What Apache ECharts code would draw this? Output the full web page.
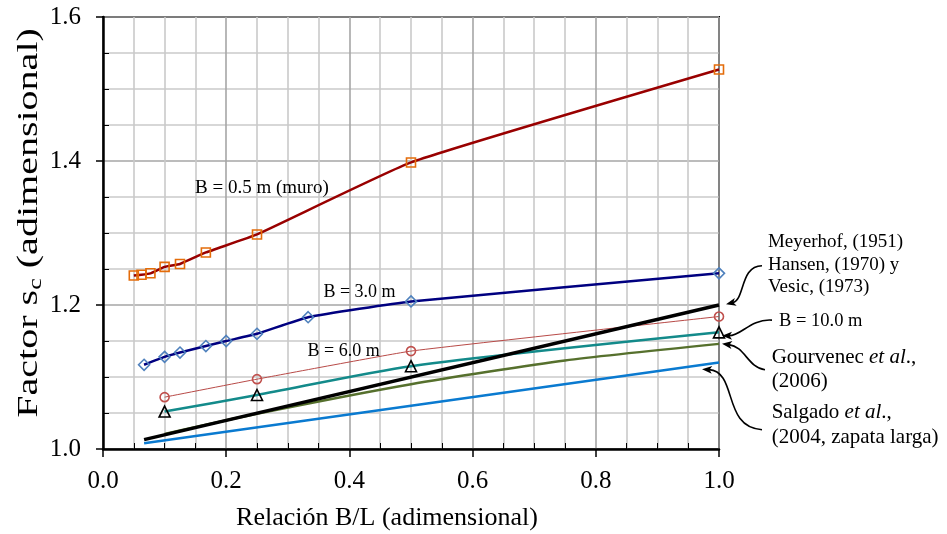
<!DOCTYPE html>
<html><head><meta charset="utf-8">
<script src="https://cdn.jsdelivr.net/npm/echarts@6/dist/echarts.min.js"></script>
<style>html,body{margin:0;padding:0;background:#fff}#main{width:947px;height:534px}</style>
</head><body><div id="main"></div>
<script>
// ---- data ----
const xTickLabels = ['0.0','0.2','0.4','0.6','0.8','1.0'];
const yTickLabels = ['1.0','1.2','1.4','1.6'];

const x05 = [0.05, 0.0625, 0.077, 0.1, 0.125, 0.167, 0.25, 0.5, 1.0];
const y05 = [1.241, 1.242, 1.244, 1.253, 1.257, 1.273, 1.298, 1.398, 1.527];

const x30 = [0.0667, 0.1, 0.125, 0.167, 0.2, 0.25, 0.333, 0.5, 1.0];
const y30 = [1.117, 1.128, 1.134, 1.143, 1.150, 1.160, 1.183, 1.205, 1.244];

const x60 = [0.1, 0.25, 0.5, 1.0];
const y60 = [1.072, 1.097, 1.136, 1.184];

const x100 = [0.1, 0.25, 0.5, 1.0];
const y100 = [1.052, 1.075, 1.115, 1.162];

const xMey = [0.0667, 1.0];
const yMey = [1.013, 1.200];

const xGou = [0.1, 0.25, 0.5, 0.75, 1.0];
const yGou = [1.021, 1.049, 1.090, 1.123, 1.146];

const xSal = [0.0667, 0.5, 1.0];
const ySal = [1.008, 1.060, 1.120];

const labels = {
  b05: 'B = 0.5 m (muro)',
  b30: 'B = 3.0 m',
  b60: 'B = 6.0 m',
  b100: 'B = 10.0 m',
  mey: 'Meyerhof, (1951)\nHansen, (1970) y\nVesic, (1973)',
  gou: 'Gourvenec {i|et al}.,\n(2006)',
  sal: 'Salgado {i|et al}.,\n(2004, zapata larga)',
  xTitle: 'Relación B/L (adimensional)',
  yTitle: 'Factor s{c|c} (adimensional)'
};
// --------------------------------------

const FONT = "'Liberation Serif','Times New Roman',serif";
const pairs = (xs, ys) => xs.map((x, i) => [x, ys[i]]);

const chart = echarts.init(document.getElementById('main'), null, {renderer: 'canvas'});

function lineSeries(name, data, color, width, symbol, symSize, symColor, extra) {
  return Object.assign({
    name, type: 'line', data,
    lineStyle: {color, width},
    symbol: symbol || 'none',
    symbolSize: symSize || 0,
    showSymbol: !!symbol,
    itemStyle: {color: 'rgba(255,255,255,0)', borderColor: symColor, borderWidth: 1.6},
    emphasis: {disabled: true},
    z: 3
  }, extra || {});
}

const option = {
  animation: false,
  backgroundColor: '#fff',
  grid: {left: 103, right: 228, top: 17, bottom: 85, show: true, borderColor: '#000', borderWidth: 2, containLabel: false},
  xAxis: {
    type: 'value', min: 0, max: 1, interval: 0.2,
    axisLine: {show: true, onZero: false, lineStyle: {color: '#000', width: 2.5}},
    axisTick: {show: true, length: 8, lineStyle: {color: '#000', width: 1.5}},
    minorTick: {show: true, splitNumber: 4, length: -6, lineStyle: {color: '#000', width: 1}},
    splitLine: {show: true, lineStyle: {color: '#A6A6A6', width: 1.6}},
    minorSplitLine: {show: true, lineStyle: {color: '#CACACA', width: 1.6}},
    axisLabel: {margin: 20, fontSize: 25, fontFamily: FONT, color: '#000',
      formatter: v => xTickLabels[Math.round(v / 0.2)]}
  },
  yAxis: {
    type: 'value', min: 1.0, max: 1.6, interval: 0.2,
    axisLine: {show: true, onZero: false, lineStyle: {color: '#000', width: 2.5}},
    axisTick: {show: true, length: 7, lineStyle: {color: '#000', width: 1.5}},
    minorTick: {show: true, splitNumber: 4, length: -6, lineStyle: {color: '#000', width: 1}},
    splitLine: {show: true, lineStyle: {color: '#A6A6A6', width: 1.6}},
    minorSplitLine: {show: true, lineStyle: {color: '#CACACA', width: 1.6}},
    axisLabel: {margin: 22, fontSize: 25, fontFamily: FONT, color: '#000',
      formatter: v => yTickLabels[Math.round((v - 1) / 0.2)]}
  },
  series: [
    lineSeries('B = 0.5 m', pairs(x05, y05), '#990000', 2.5, 'rect', 9, '#E46C0A', {smooth: 0.12}),
    lineSeries('B = 3.0 m', pairs(x30, y30), '#000080', 2.5, 'diamond', 11, '#4F81BD', {smooth: 0.15}),
    lineSeries('B = 6.0 m', pairs(x60, y60), '#B84A47', 1, 'circle', 9, '#C0504D', {smooth: 0.1}),
    lineSeries('B = 10.0 m', pairs(x100, y100), '#138A8A', 2.5, 'triangle', 11, '#000', {smooth: 0.25}),
    lineSeries('Salgado', pairs(xSal, ySal), '#0A7AD0', 2.5, null, 0, null),
    lineSeries('Gourvenec', pairs(xGou, yGou), '#56702D', 2.5, null, 0, null, {smooth: 0.2}),
    lineSeries('Meyerhof', pairs(xMey, yMey), '#000', 3.5, null, 0, null)
  ]
};
chart.setOption(option);

const P = (x, y) => chart.convertToPixel({gridIndex: 0}, [x, y]);

function text(anchor, str, size, align, lineHeight, extra) {
  const p = P(anchor[0], anchor[1]);
  return Object.assign({
    type: 'text', x: p[0], y: p[1], z: 100,
    style: {
      text: str, fontSize: size, fontFamily: FONT, fill: '#000',
      align: align, verticalAlign: 'middle', lineHeight: lineHeight || size * 1.15,
      rich: {
        i: {fontStyle: 'italic', fontSize: size, fontFamily: FONT, fill: '#000', lineHeight: lineHeight || size * 1.15}
      }
    }
  }, extra || {});
}

// arrow: target data point + pixel offsets (start, control1, control2, tip)
function arrow(target, off) {
  const t = P(target[0], target[1]);
  const pt = o => [t[0] + o[0], t[1] + o[1]];
  const p0 = pt(off[0]), c1 = pt(off[1]), c2 = pt(off[2]), tip = pt(off[3]);
  const dx = tip[0] - c2[0], dy = tip[1] - c2[1];
  const L = Math.hypot(dx, dy), ux = dx / L, uy = dy / L;
  const len = 10, hw = 4;
  const base = [tip[0] - ux * len, tip[1] - uy * len];
  const left = [base[0] - uy * hw, base[1] + ux * hw];
  const right = [base[0] + uy * hw, base[1] - ux * hw];
  const end = [tip[0] - ux * 7, tip[1] - uy * 7];
  return [
    {type: 'bezierCurve', z: 100, shape: {x1: p0[0], y1: p0[1], cpx1: c1[0], cpy1: c1[1], cpx2: c2[0], cpy2: c2[1], x2: end[0], y2: end[1]},
      style: {stroke: '#000', lineWidth: 1.6, fill: null}},
    {type: 'polygon', z: 101, shape: {points: [tip, left, [base[0] + ux * 2.5, base[1] + uy * 2.5], right]}, style: {fill: '#000'}}
  ];
}

const g = [];
g.push(text([0.258, 1.363], labels.b05, 19, 'center'));
g.push(text([0.4164, 1.2174], labels.b30, 18, 'center'));
g.push(text([0.3907, 1.1356], labels.b60, 18, 'center'));
g.push(text([1.0795, 1.2560], labels.mey, 19, 'left', 22.5));
g.push(text([1.0974, 1.1782], labels.b100, 18.5, 'left'));
g.push(text([1.0855, 1.1101], labels.gou, 21, 'left', 24));
g.push(text([1.0855, 1.0330], labels.sal, 21, 'left', 25));

// axis titles
const xc = P(0.461, 1.0);
g.push({type: 'text', x: xc[0], y: xc[1] + 69, z: 100,
  style: {text: labels.xTitle, fontSize: 26, fontFamily: FONT, fill: '#000', align: 'center', verticalAlign: 'middle'}});
const yc = P(0, 1.314);
g.push({type: 'text', x: yc[0] - 74, y: yc[1], rotation: Math.PI / 2, scaleX: 1.38, z: 100,
  style: {text: labels.yTitle, fontSize: 29, fontFamily: FONT, fill: '#000', align: 'center', verticalAlign: 'middle', lineHeight: 34,
    rich: {c: {fontSize: 19, fontFamily: FONT, fill: '#000', verticalAlign: 'bottom', lineHeight: 19}}}});

g.push(...arrow([1.0, 1.2], [[43, -39.3], [21, -39.3], [26, -5.3], [7, -0.8]]));
g.push(...arrow([1.0, 1.162], [[53, -12.2], [31, -13.7], [23, 3.3], [3, 3.3]]));
g.push(...arrow([1.0, 1.146], [[46, 25.8], [29, 23.8], [26, 2.8], [3, -0.2]]));
g.push(...arrow([0.97, 1.116], [[61.5, 64.2], [21.5, 62.2], [37.5, 6.2], [1.5, 3.7]]));

chart.setOption({graphic: g});
</script></body></html>
